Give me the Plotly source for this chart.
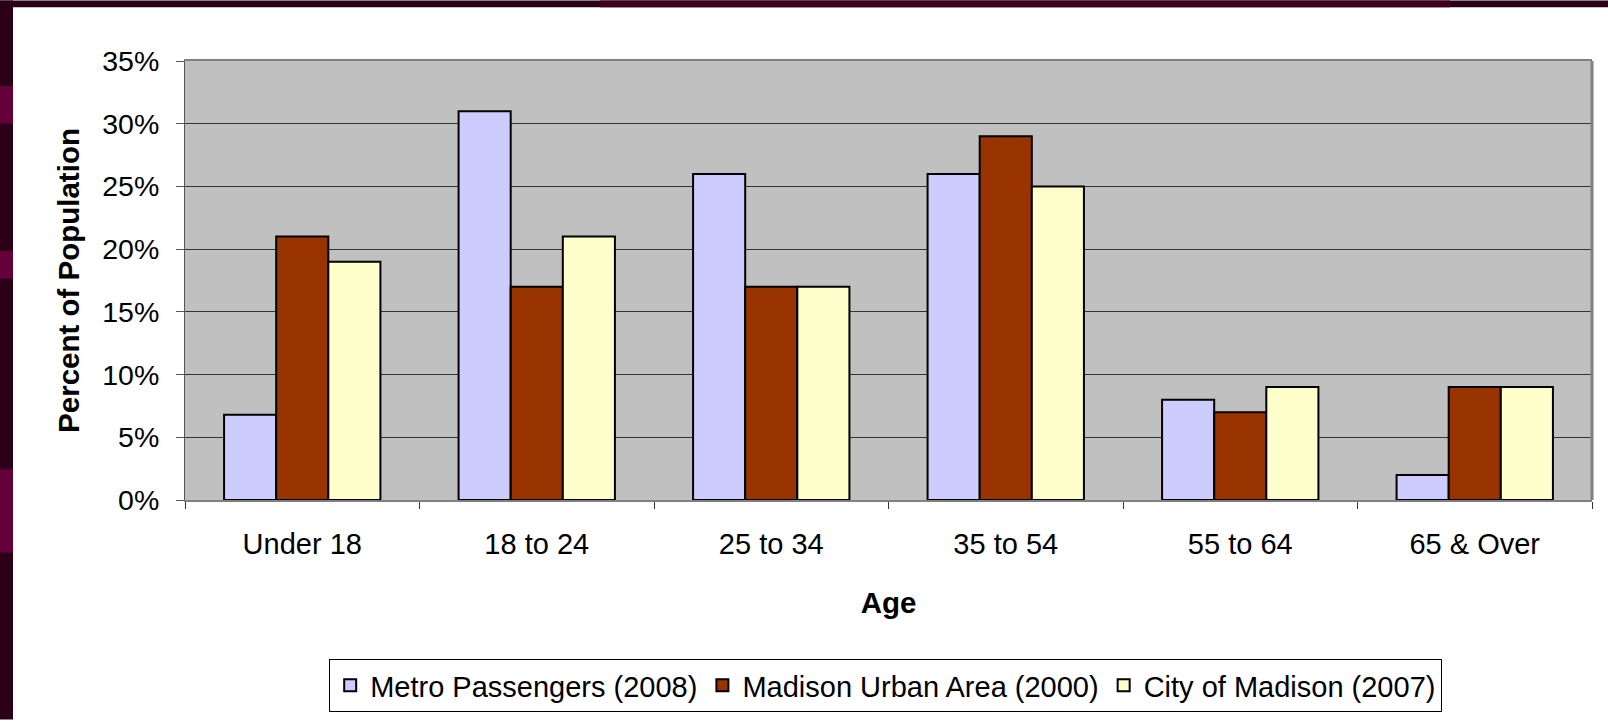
import plotly.graph_objects as go

categories = ["Under 18", "18 to 24", "25 to 34", "35 to 54", "55 to 64", "65 & Over"]
metro_2008 = [6.8, 31, 26, 26, 8, 2]
urban_2000 = [21, 17, 17, 29, 7, 9]
city_2007 = [19, 21, 17, 25, 9, 9]
y_ticks = [0, 5, 10, 15, 20, 25, 30, 35]
y_tick_labels = [f"{v}%" for v in y_ticks]

W, H = 1608, 724
L, R, T, B = 185, 16, 61, 221
PW, PH = W - L - R, H - T - B

def px(x):
    return (x - L) / PW

def py(y):
    return (H - B - y) / PH

FONT = "Liberation Sans, Arial, sans-serif"

fig = go.Figure()
series = [
    ("Metro Passengers (2008)", metro_2008, "#CCCCFF"),
    ("Madison Urban Area (2000)", urban_2000, "#993300"),
    ("City of Madison (2007)", city_2007, "#FFFFCC"),
]
for name, vals, col in series:
    fig.add_trace(go.Bar(
        x=categories, y=vals, name=name,
        marker=dict(color=col, line=dict(color="black", width=2)),
    ))

shapes = []
# dark maroon frame (left and top strips)
dark = "#2a0016"
band = "#66003a"
shapes.append(dict(type="rect", xref="paper", yref="paper", x0=px(0), x1=px(13), y0=py(724), y1=py(0),
                   fillcolor=dark, line=dict(width=0), layer="below"))
shapes.append(dict(type="rect", xref="paper", yref="paper", x0=px(0), x1=px(1608), y0=py(7), y1=py(0),
                   fillcolor=dark, line=dict(width=0), layer="below"))
shapes.append(dict(type="rect", xref="paper", yref="paper", x0=px(600), x1=px(1450), y0=py(7), y1=py(0),
                   fillcolor="#40001d", line=dict(width=0), layer="below"))
for y0, y1 in [(86, 124), (252, 280), (472, 556)]:
    shapes.append(dict(type="rect", xref="paper", yref="paper", x0=px(0), x1=px(13), y0=py(y1), y1=py(y0),
                       fillcolor=band, line=dict(width=0), layer="below"))
# right border of plot
shapes.append(dict(type="line", xref="paper", yref="paper", x0=1, x1=1, y0=0, y1=1,
                   line=dict(color="#808080", width=3)))

fig.update_layout(
    width=W, height=H,
    margin=dict(l=L, r=R, t=T, b=B),
    paper_bgcolor="white",
    plot_bgcolor="#C0C0C0",
    barmode="group",
    bargap=1.5 / 4.5,
    bargroupgap=0,
    font=dict(family=FONT, size=29, color="black"),
    showlegend=True,
    legend=dict(
        orientation="h", x=0.498, xanchor="center", y=py(663), yanchor="top",
        bordercolor="black", borderwidth=1, bgcolor="white",
        font=dict(family=FONT, size=29, color="black"),
        itemwidth=30, tracegroupgap=0,
    ),
    shapes=shapes,
    xaxis=dict(
        showline=True, linecolor="#808080", linewidth=2, mirror=True,
        ticks="outside", ticklen=7, tickcolor="#333333", tickwidth=1,
        tickson="boundaries", showgrid=False,
        ticklabelstandoff=17,
        tickfont=dict(family=FONT, size=29),
        title=dict(text="<b>Age</b>", font=dict(family=FONT, size=29.5), standoff=34),
    ),
    yaxis=dict(
        range=[0, 35], tickvals=y_ticks, ticktext=y_tick_labels,
        showline=True, linecolor="#555555", linewidth=1,
        ticks="outside", ticklen=8, tickcolor="#555555", tickwidth=1,
        showgrid=True, gridcolor="#333333", gridwidth=1,
        zeroline=False,
        ticklabelstandoff=11,
        tickfont=dict(family=FONT, size=28.5),
        title=dict(text="<b>Percent of Population</b>", font=dict(family=FONT, size=29.5), standoff=13),
    ),
)

fig.write_html("out.html", config={"displayModeBar": False},
               post_script="document.body.style.margin='0';")
